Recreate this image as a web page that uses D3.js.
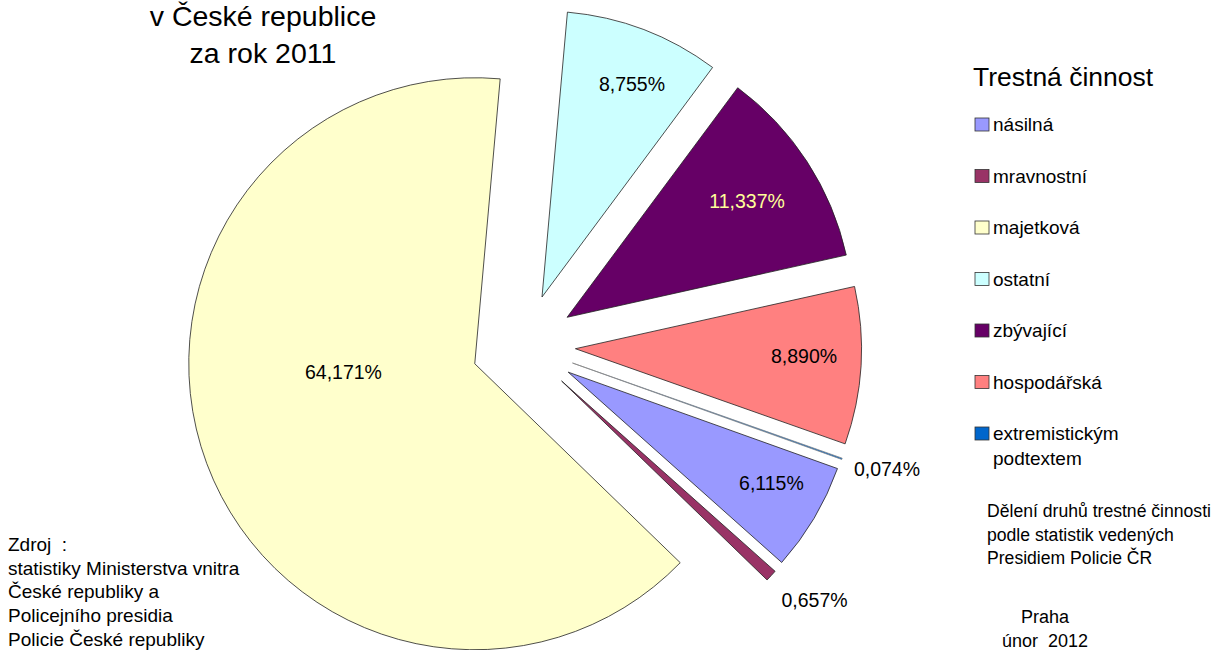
<!DOCTYPE html>
<html>
<head>
<meta charset="utf-8">
<script src="https://cdn.jsdelivr.net/npm/d3@7"></script>
<style>
  body { margin: 0; background: #fff; }
  text { font-family: "Liberation Sans", Arial, sans-serif; fill: #000; }
</style>
</head>
<body>
<div id="chart"></div>
<script>
// data
var categories = ['násilná', 'mravnostní', 'majetková', 'ostatní', 'zbývající', 'hospodářská', 'extremistickým podtextem'];
var shares = [6.115, 0.657, 64.171, 8.755, 11.337, 8.890, 0.074];
var labels = ['6,115%', '0,657%', '64,171%', '8,755%', '11,337%', '8,890%', '0,074%'];
var colors = ['#9999ff', '#993366', '#ffffcc', '#ccffff', '#660066', '#ff8080', '#0066cc'];

// label placement (fraction of radius, extra turn in degrees)
var labelRadius = [0.81, 1.17, 0.46, 0.81, 0.75, 0.80, 1.16];
var labelTurn = [-2, -2, 17, 2, 0, -1.5, -1];

var svgWidth = 1221;
var svgHeight = 650;

var cx = 523.5, cy = 345.6;
var radius = 286;
var explode = 52;
var startDeg = 109.7;

var svg = d3.select('#chart')
  .append('svg')
  .attr('width', svgWidth)
  .attr('height', svgHeight);

var pie = d3.pie()
  .sort(null)
  .value(d => d)
  .startAngle(startDeg * Math.PI / 180)
  .endAngle((startDeg + 360) * Math.PI / 180);

var arc = d3.arc().innerRadius(0).outerRadius(radius);
var arcs = pie(shares);

function shift(a) {
  var mid = (a.startAngle + a.endAngle) / 2;
  return [explode * Math.sin(mid), -explode * Math.cos(mid)];
}

var pieGroup = svg.append('g')
  .attr('transform', `translate(${cx}, ${cy})`);

pieGroup.selectAll('path')
  .data(arcs)
  .enter()
  .append('path')
  .attr('transform', d => `translate(${shift(d)[0]}, ${shift(d)[1]})`)
  .attr('d', arc)
  .attr('fill', (d, i) => colors[i])
  .attr('stroke', (d, i) => i === 6 ? '#888' : '#222')
  .attr('stroke-width', 0.8)
  .attr('stroke-linejoin', 'round');

// slice labels
pieGroup.selectAll('text.lbl')
  .data(arcs)
  .enter()
  .append('text')
  .attr('class', 'lbl')
  .attr('x', (d, i) => {
    var a = (d.startAngle + d.endAngle) / 2 + labelTurn[i] * Math.PI / 180;
    return shift(d)[0] + radius * labelRadius[i] * Math.sin(a);
  })
  .attr('y', (d, i) => {
    var a = (d.startAngle + d.endAngle) / 2 + labelTurn[i] * Math.PI / 180;
    return shift(d)[1] - radius * labelRadius[i] * Math.cos(a);
  })
  .attr('dy', '0.36em')
  .attr('text-anchor', 'middle')
  .style('font-size', '19.5px')
  .style('fill', (d, i) => i === 4 ? '#ffff99' : '#000')
  .text((d, i) => labels[i]);

// title
var title = svg.append('text')
  .attr('text-anchor', 'middle')
  .style('font-size', '28.5px');
title.append('tspan').attr('x', 263).attr('y', 26).text('v České republice');
title.append('tspan').attr('x', 263).attr('y', 63).text('za rok 2011');

// legend
var legend = svg.append('g').attr('transform', 'translate(975, 0)');
legend.append('text')
  .attr('x', -2)
  .attr('y', 86)
  .style('font-size', '26.5px')
  .text('Trestná činnost');

var item = legend.selectAll('g.item')
  .data(categories)
  .enter()
  .append('g')
  .attr('class', 'item')
  .attr('transform', (d, i) => `translate(0, ${118 + i * 51.5})`);

item.append('rect')
  .attr('width', 14)
  .attr('height', 13)
  .attr('fill', (d, i) => colors[i])
  .attr('stroke', '#333')
  .attr('stroke-width', 0.8);

item.append('text')
  .style('font-size', '19px')
  .selectAll('tspan')
  .data(d => d.split(' '))
  .enter()
  .append('tspan')
  .attr('x', 18)
  .attr('y', (d, j) => 13 + j * 25)
  .text(d => d);

// notes
function block(lines, x, y, step, anchor, size) {
  var t = svg.append('text')
    .attr('text-anchor', anchor)
    .style('font-size', size + 'px');
  t.selectAll('tspan')
    .data(lines)
    .enter()
    .append('tspan')
    .attr('x', x)
    .attr('y', (d, i) => y + i * step)
    .style('white-space', 'pre')
    .text(d => d);
}

block(['Dělení druhů trestné činnosti', 'podle statistik vedených', 'Presidiem Policie ČR'], 987, 517, 23.5, 'start', 17.6);
block(['Praha', 'únor  2012'], 1045, 623, 24, 'middle', 18);
block(['Zdroj  :', 'statistiky Ministerstva vnitra', 'České republiky a', 'Policejního presidia', 'Policie České republiky'], 8, 551, 23.7, 'start', 19);
</script>
</body>
</html>
